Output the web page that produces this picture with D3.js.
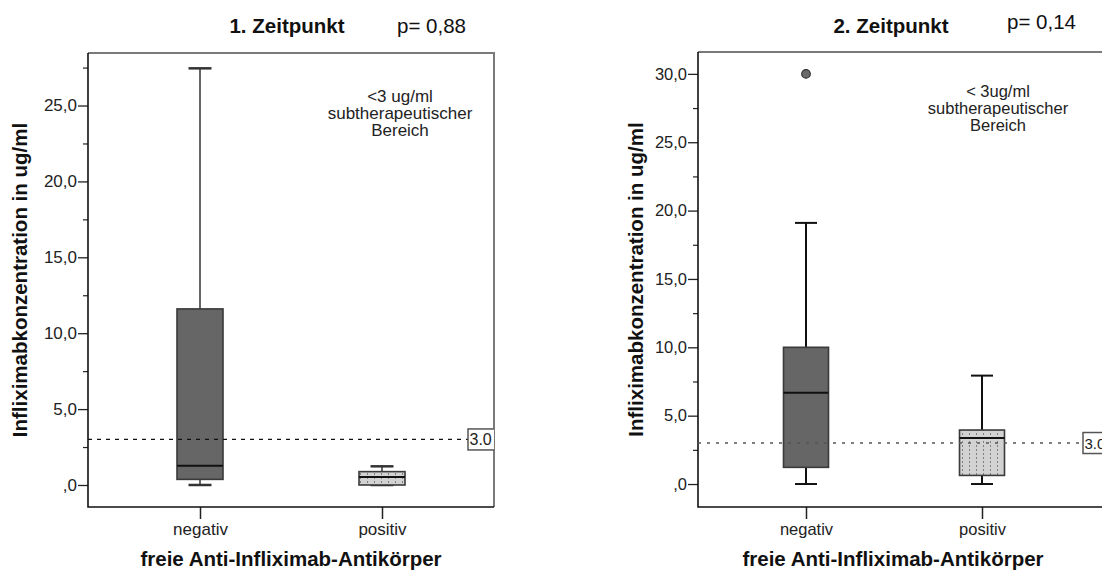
<!DOCTYPE html>
<html>
<head>
<meta charset="utf-8">
<script src="https://cdn.jsdelivr.net/npm/d3@7/dist/d3.min.js"></script>
<style>
  html, body { margin: 0; padding: 0; background: #fff; }
  svg { display: block; font-family: "Liberation Sans", Arial, sans-serif; }
</style>
</head>
<body>
<svg id="chart" width="1102" height="572"></svg>
<script>
// ---------------- DATA ----------------
const categories = ["negativ", "positiv"];

// 1. Zeitpunkt
const t1Min    = [0.0, 0.0];
const t1Q1     = [0.37, 0.0];
const t1Median = [1.27, 0.53];
const t1Q3     = [11.6, 0.88];
const t1Max    = [27.45, 1.23];
const t1OutlierCat = [];
const t1OutlierVal = [];

// 2. Zeitpunkt
const t2Min    = [0.0, 0.0];
const t2Q1     = [1.22, 0.63];
const t2Median = [6.68, 3.37];
const t2Q3     = [10.0, 3.95];
const t2Max    = [19.1, 7.93];
const t2OutlierCat = ["negativ"];
const t2OutlierVal = [30.0];

const yTicks1 = [0, 5, 10, 15, 20, 25];
const yMinor1 = [2.5, 7.5, 12.5, 17.5, 22.5, 27.5];
const yTicks2 = [0, 5, 10, 15, 20, 25, 30];
const yMinor2 = [2.5, 7.5, 12.5, 17.5, 22.5, 27.5];

const refValue = 3.0;
const refLabel = "3.0";
const titles = ["1. Zeitpunkt", "2. Zeitpunkt"];
const pValues = ["p= 0,88", "p= 0,14"];
const noteLines1 = ["<3 ug/ml", "subtherapeutischer", "Bereich"];
const noteLines2 = ["< 3ug/ml", "subtherapeutischer", "Bereich"];
const yTitle = "Infliximabkonzentration in ug/ml";
const xTitle = "freie Anti-Infliximab-Antikörper";

// ---------------- DRAW ----------------
const svg = d3.select("#chart");
const defs = svg.append("defs");

const pat = defs.append("pattern")
  .attr("id", "dots").attr("patternUnits", "userSpaceOnUse")
  .attr("width", 7).attr("height", 4);
pat.append("rect").attr("width", 7).attr("height", 4).attr("fill", "#d2d2d2");
pat.append("rect").attr("x", 3).attr("y", 1).attr("width", 1).attr("height", 2).attr("fill", "#808080");

const fmt = d => d === 0 ? ",0" : d.toFixed(1).replace(".", ",");

function panel(o) {
  const g = svg.append("g");
  const y = d3.scaleLinear().domain(o.yDomain).range([o.y1, o.y0]);
  const x = d3.scalePoint().domain(categories).range(o.xRange);

  defs.append("clipPath").attr("id", o.id)
    .append("rect").attr("x", o.x0).attr("y", o.y0)
    .attr("width", o.x1 - o.x0).attr("height", o.y1 - o.y0);

  // frame top/right (gray)
  g.append("path")
    .attr("d", `M${o.x0},${o.y0}H${o.x1}V${o.y1}`)
    .attr("fill", "none").attr("stroke", "#7a7a7a").attr("stroke-width", 2);

  // y axis
  const ya = g.append("g").attr("transform", `translate(${o.x0},0)`)
    .call(d3.axisLeft(y).tickValues(o.yTicks).tickFormat(fmt).tickSize(10).tickPadding(1));
  ya.select(".domain").remove();
  ya.selectAll(".tick line").attr("stroke", "#222").attr("stroke-width", 1.3);
  ya.selectAll(".tick text").attr("font-size", o.fs).attr("fill", "#222")
    .attr("font-family", "Liberation Sans, Arial, sans-serif");
  const ym = g.append("g").attr("transform", `translate(${o.x0},0)`)
    .call(d3.axisLeft(y).tickValues(o.yMinor).tickFormat("").tickSize(5));
  ym.select(".domain").remove();
  ym.selectAll(".tick line").attr("stroke", "#222").attr("stroke-width", 1.2);

  // x axis
  const xa = g.append("g").attr("transform", `translate(0,${o.y1})`)
    .call(d3.axisBottom(x).tickSize(12).tickPadding(4));
  xa.select(".domain").remove();
  xa.selectAll(".tick line").attr("stroke", "#222").attr("stroke-width", 1.5);
  xa.selectAll(".tick text").attr("font-size", o.fs).attr("fill", "#222")
    .attr("font-family", "Liberation Sans, Arial, sans-serif");

  // frame left/bottom (black)
  g.append("path")
    .attr("d", `M${o.x0},${o.y0}V${o.y1}H${o.x1}`)
    .attr("fill", "none").attr("stroke", "#111").attr("stroke-width", 1.6);

  const rows = categories.map((c, i) => ({
    c, min: o.min[i], q1: o.q1[i], med: o.median[i], q3: o.q3[i], max: o.max[i], i
  }));
  const bw = o.boxW, cw = o.capW;
  const plot = g.append("g").attr("clip-path", `url(#${o.id})`);

  // whiskers
  plot.selectAll(".wh").data(rows).join("g").each(function(d) {
    const s = d3.select(this);
    const cx = x(d.c);
    if (d.max > d.q3) {
      s.append("line").attr("x1", cx).attr("x2", cx).attr("y1", y(d.q3)).attr("y2", y(d.max))
        .attr("stroke", o.whColor).attr("stroke-width", o.whW);
      s.append("line").attr("x1", cx - cw / 2).attr("x2", cx + cw / 2).attr("y1", y(d.max)).attr("y2", y(d.max))
        .attr("stroke", o.whColor).attr("stroke-width", o.capStroke);
    }
    if (d.min < d.q1) {
      s.append("line").attr("x1", cx).attr("x2", cx).attr("y1", y(d.q1)).attr("y2", y(d.min))
        .attr("stroke", o.whColor).attr("stroke-width", o.whW);
    }
    s.append("line").attr("x1", cx - cw / 2).attr("x2", cx + cw / 2).attr("y1", y(d.min)).attr("y2", y(d.min))
      .attr("stroke", o.whColor).attr("stroke-width", o.capStroke);
  });

  // boxes
  plot.selectAll(".box").data(rows).join("rect")
    .attr("x", d => x(d.c) - bw / 2)
    .attr("y", d => y(d.q3))
    .attr("width", bw)
    .attr("height", d => Math.max(0, y(d.q1) - y(d.q3)))
    .attr("fill", d => d.i === 0 ? "#666666" : "url(#dots)")
    .attr("stroke", "#3a3a3a").attr("stroke-width", 1.6);

  // medians
  plot.selectAll(".med").data(rows).join("line")
    .attr("x1", d => x(d.c) - bw / 2).attr("x2", d => x(d.c) + bw / 2)
    .attr("y1", d => y(d.med)).attr("y2", d => y(d.med))
    .attr("stroke", "#111").attr("stroke-width", 2);

  // outliers
  const outs = o.outCat.map((c, i) => ({ c, v: o.outVal[i] }));
  plot.selectAll(".out").data(outs).join("circle")
    .attr("cx", d => x(d.c)).attr("cy", d => y(d.v)).attr("r", 4.3)
    .attr("fill", "#6a6a6a").attr("stroke", "#333").attr("stroke-width", 1.2);

  // reference line
  const ry = y(refValue);
  plot.append("line").attr("x1", o.x0).attr("x2", o.labX).attr("y1", ry).attr("y2", ry)
    .attr("stroke", o.refColor).attr("stroke-width", 1.3).attr("stroke-dasharray", o.refDash);
  plot.append("rect").attr("x", o.labX).attr("y", ry - 10.5).attr("width", 32).attr("height", 21)
    .attr("fill", "#fff").attr("stroke", "#555").attr("stroke-width", 1.5);
  plot.append("text").attr("x", o.labX + 1.5).attr("y", ry + 6).text(refLabel)
    .attr("font-size", o.labFs).attr("fill", "#222");

  // annotation
  g.append("text").attr("text-anchor", "middle").attr("font-size", o.noteFs).attr("fill", "#222")
    .selectAll("tspan").data(o.note).join("tspan")
    .attr("x", o.noteX).attr("y", (d, i) => o.noteY + i * 17).text(d => d);

  // titles
  g.append("text").attr("x", o.titleX).attr("y", 33).attr("text-anchor", "middle")
    .attr("font-size", 20.5).attr("font-weight", "bold").attr("fill", "#111").text(o.title);
  g.append("text").attr("x", o.pX).attr("y", o.pY)
    .attr("font-size", 20.5).attr("fill", "#111").text(o.p);

  g.append("text")
    .attr("transform", `translate(${o.yTitleX},${(o.y0 + o.y1) / 2}) rotate(-90)`)
    .attr("text-anchor", "middle").attr("font-size", 20.5).attr("font-weight", "bold")
    .attr("fill", "#111").text(yTitle);
  g.append("text").attr("x", o.xTitleX).attr("y", 566).attr("text-anchor", "middle")
    .attr("font-size", 20.5).attr("font-weight", "bold").attr("fill", "#111").text(xTitle);
}

panel({
  id: "clip1", x0: 88, x1: 494, y0: 53, y1: 507,
  yDomain: [-1.45, 28.46], xRange: [200, 382],
  yTicks: yTicks1, yMinor: yMinor1, fs: 17,
  min: t1Min, q1: t1Q1, median: t1Median, q3: t1Q3, max: t1Max,
  outCat: t1OutlierCat, outVal: t1OutlierVal,
  boxW: 46, capW: 23, whColor: "#333", whW: 1.5, capStroke: 2.5,
  refColor: "#111", refDash: "4,5", labX: 468, labFs: 16,
  note: noteLines1, noteX: 400, noteY: 102, noteFs: 17,
  title: titles[0], titleX: 287, p: pValues[0], pX: 397, pY: 33,
  yTitleX: 27, xTitleX: 291
});

panel({
  id: "clip2", x0: 698, x1: 1112, y0: 52, y1: 507,
  yDomain: [-1.68, 31.6], xRange: [806, 982],
  yTicks: yTicks2, yMinor: yMinor2, fs: 16.5,
  min: t2Min, q1: t2Q1, median: t2Median, q3: t2Q3, max: t2Max,
  outCat: t2OutlierCat, outVal: t2OutlierVal,
  boxW: 45, capW: 22, whColor: "#111", whW: 2, capStroke: 2,
  refColor: "#555", refDash: "3,6", labX: 1083, labFs: 15,
  note: noteLines2, noteX: 998, noteY: 97, noteFs: 16.5,
  title: titles[1], titleX: 891, p: pValues[1], pX: 1007, pY: 29,
  yTitleX: 643, xTitleX: 893
});
</script>
</body>
</html>
